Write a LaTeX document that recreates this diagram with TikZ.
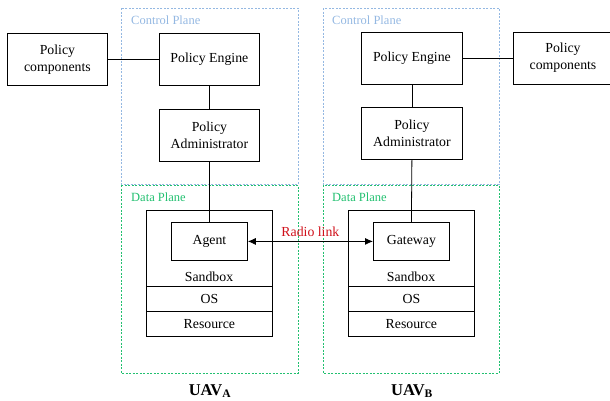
\documentclass[tikz,border=0pt]{standalone}
\usepackage{fontspec}
\setmainfont{Liberation Serif}
\usetikzlibrary{arrows.meta}
\definecolor{cpblue}{HTML}{94B8E2}
\definecolor{dpgreen}{HTML}{22C070}
\definecolor{radiored}{HTML}{D0101A}
\begin{document}
\begin{tikzpicture}[x=1pt,y=-1pt,
  box/.style={draw=black,line width=0.8pt,inner sep=0pt,anchor=north west},
  txt/.style={font=\fontsize{13.8}{16.8}\selectfont,align=center,inner sep=0pt},
  cpframe/.style={draw=cpblue,dashed,dash pattern=on 2pt off 1.5pt,line width=0.8pt},
  dpframe/.style={draw=dpgreen,dashed,dash pattern=on 2pt off 1.5pt,line width=0.8pt},
  planelbl/.style={font=\fontsize{12.5}{14}\selectfont,anchor=west,inner sep=0pt},
  conn/.style={draw=black,line width=0.8pt},
  uav/.style={font=\fontsize{16.5}{18}\bfseries\selectfont,inner sep=0pt}
]
\useasboundingbox (0,0) rectangle (610,400);

% planes
\draw[dpframe] (121,185) rectangle (298,373);
\draw[dpframe] (323,185) rectangle (499,373);
\draw[cpframe] (121,8) rectangle (298,184);
\draw[cpframe] (323,8) rectangle (499,184);
\node[planelbl,text=cpblue] (cplA) at (131,20) {Control Plane};
\node[planelbl,text=cpblue] (cplB) at (332,20) {Control Plane};
\node[planelbl,text=dpgreen] (dplA) at (131,197) {Data Plane};
\node[planelbl,text=dpgreen] (dplB) at (332,197) {Data Plane};

% UAV A
\node[box,minimum width=100pt,minimum height=52pt] (pcA) at (7,33) {};
\node[txt] at (pcA.center) {Policy\\components};
\node[box,minimum width=100pt,minimum height=52pt] (peA) at (159,33) {};
\node[txt] at (peA.center) {Policy Engine};
\node[box,minimum width=100pt,minimum height=52pt] (paA) at (159,109) {};
\node[txt] at (paA.center) {Policy\\Administrator};
\node[box,minimum width=126pt,minimum height=76pt] (sbA) at (146,210) {};
\node[txt,anchor=base] at (209,281) {Sandbox};
\node[box,minimum width=126pt,minimum height=25pt] (osA) at (146,286) {};
\node[txt] at (osA.center) {OS};
\node[box,minimum width=126pt,minimum height=25pt] (resA) at (146,311) {};
\node[txt] at (resA.center) {Resource};
\node[box,minimum width=76pt,minimum height=38pt] (agent) at (171,222) {};
\node[txt] at (agent.center) {Agent};

% UAV B
\node[box,minimum width=100pt,minimum height=52pt] (pcB) at (513,32) {};
\node[txt] at (563,57.5) {Policy\\components};
\node[box,minimum width=101pt,minimum height=52pt] (peB) at (361,32) {};
\node[txt] at (peB.center) {Policy Engine};
\node[box,minimum width=101pt,minimum height=52pt] (paB) at (361,107) {};
\node[txt] at (paB.center) {Policy\\Administrator};
\node[box,minimum width=126pt,minimum height=76pt] (sbB) at (348,210) {};
\node[txt,anchor=base] at (411,281) {Sandbox};
\node[box,minimum width=126pt,minimum height=25pt] (osB) at (348,286) {};
\node[txt] at (osB.center) {OS};
\node[box,minimum width=126pt,minimum height=25pt] (resB) at (348,311) {};
\node[txt] at (resB.center) {Resource};
\node[box,minimum width=76pt,minimum height=38pt] (gw) at (373,222) {};
\node[txt] at (gw.center) {Gateway};

% connectors
\draw[conn] (pcA.east) -- (peA.west);
\draw[conn] (peA.south) -- (paA.north);
\draw[conn] (paA.south) -- (agent.north);
\draw[conn] (peB.east) -- (pcB.west);
\draw[conn] (peB.south) -- (paB.north);
\draw[conn] (paB.south) -- (gw.north);
\draw[conn,{Latex[length=8pt,width=7pt]}-{Latex[length=8pt,width=7pt]}] (agent.east) -- (gw.west)
  node[midway,above=4pt,inner sep=0pt,text=radiored,font=\fontsize{13.8}{16}\selectfont] (rl) {Radio link};

% UAV labels
\node[uav] (uavA) at (210,391) {UAV\textsubscript{A}};
\node[uav] (uavB) at (412,391) {UAV\textsubscript{B}};
\end{tikzpicture}
\end{document}
